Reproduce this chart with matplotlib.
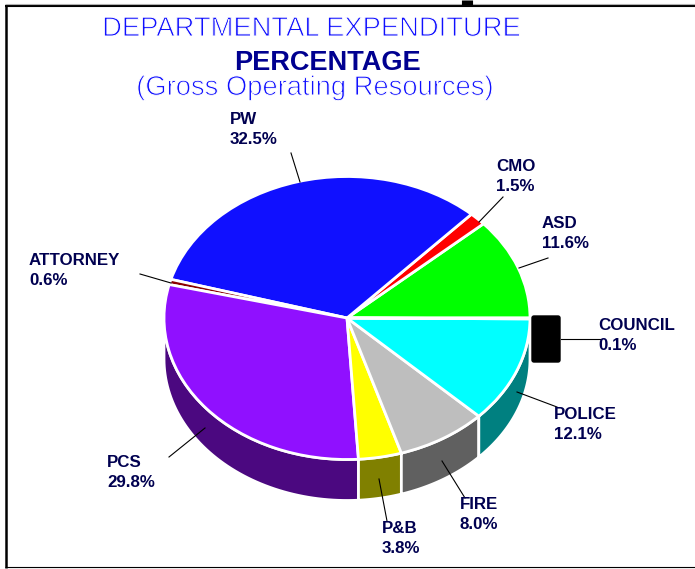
#!/usr/bin/env python3
"""Departmental expenditure pie, drawn with a fake 3D wall."""
import numpy as np
import matplotlib
matplotlib.use("Agg")
import matplotlib.pyplot as plt
import matplotlib.patheffects as pe
from matplotlib.patches import FancyBboxPatch, Polygon

plt.rcParams["font.family"] = ["Liberation Sans", "DejaVu Sans"]

W, H = 695, 569

# counter clockwise from 3 o'clock
departments = ["ASD", "CMO", "PW", "ATTORNEY", "PCS", "P&B", "FIRE", "POLICE", "COUNCIL"]
percents = [11.6, 1.5, 32.5, 0.6, 29.8, 3.8, 8.0, 12.1, 0.1]
top_colors = ["#00ff00", "#ff0000", "#1010ff", "#8b0000", "#9010ff",
              "#ffff00", "#bebebe", "#00ffff", "#000000"]
wall_colors = ["#008000", "#800000", "#080880", "#460000", "#4b0880",
               "#808000", "#606060", "#008080", "#000000"]

# label anchor (left, top of first line) and leader line, in image pixels
label_xy = [(542, 215), (496, 158), (230, 111), (29, 252), (107, 454),
            (382, 520), (460, 496), (554, 406), (598, 317)]
leaders = [((548, 258), (519, 268)), ((503, 197), (479, 222)), ((291, 153), (300, 182)),
           ((140, 274), (171, 283)), ((169, 457), (205, 428)), ((387, 521), (379, 479)),
           ((465, 498), (442, 461)), ((557, 407), (517, 392)), ((561, 339), (600, 339))]

# pie geometry in image pixels
CX, CY = 347, 318
RX, RY = 183, 141.5
DEPTH = 41 / RY

fig = plt.figure(figsize=(W / 100, H / 100), dpi=100, facecolor="white")

# pie axes fills the figure, limits chosen so radius 1 gives the ellipse
ax = fig.add_axes([0, 0, 1, 1])
wedges, _ = ax.pie(percents, colors=top_colors, startangle=0, counterclock=True,
                   wedgeprops={"edgecolor": "white", "linewidth": 2, "zorder": 3})
ax.set_aspect("auto")
ax.set_xlim(-CX / RX, (W - CX) / RX)
ax.set_ylim((CY - H) / RY, CY / RY)

# side wall only for the part of a slice on the lower half
for w, col in zip(wedges, wall_colors):
    t1, t2 = max(w.theta1, 180), min(w.theta2, 360)
    if t2 <= t1 or col == "#000000":
        continue
    t = np.radians(np.linspace(t1, t2, 60))
    x, y = np.cos(t), np.sin(t)
    pts = np.r_[np.c_[x, y], np.c_[x, y - DEPTH][::-1]]
    ax.add_patch(Polygon(pts, closed=True, facecolor=col, edgecolor="white",
                         linewidth=2, zorder=2))

# overlay in pixel coordinates for text and decoration
ov = fig.add_axes([0, 0, 1, 1], facecolor="none")
ov.set_xlim(0, W)
ov.set_ylim(H, 0)
ov.axis("off")

# white outline over the fill gives the thin strokes of the titles
thin = [pe.Stroke(linewidth=0.7, foreground="white")]
ov.text(311.5, 29, "DEPARTMENTAL EXPENDITURE", color="#1010ff", fontsize=19.7,
        ha="center", va="center", path_effects=thin)
ov.text(327, 63, "PERCENTAGE", color="#000090", fontsize=19.5, fontweight="bold",
        ha="center", va="center")
ov.text(315, 88, "(Gross Operating Resources)", color="#1010ff", fontsize=19.7,
        ha="center", va="center", path_effects=thin)

for name, pct, (lx, ly), (p0, p1) in zip(departments, percents, label_xy, leaders):
    ov.plot([p0[0], p1[0]], [p0[1], p1[1]], color="black", lw=0.8, zorder=4)
    ov.text(lx, ly + 1, f"{name}\n{pct:.1f}%", color="#000050", fontsize=12.2, fontweight="bold",
            ha="left", va="top", linespacing=1.42, zorder=5)

# the council slice shows as a black block
ov.add_patch(FancyBboxPatch((533, 317), 26, 44, boxstyle="round,pad=1,rounding_size=2",
                            facecolor="black", edgecolor="black", lw=1, zorder=3))

# frame
ov.plot([6, 6], [5, 568], color="black", lw=1.8, solid_capstyle="butt")
ov.plot([5, 695], [6, 6], color="black", lw=1.5, solid_capstyle="butt")
ov.plot([5, 695], [4, 4], color="#b0b0b0", lw=0.8, solid_capstyle="butt")
ov.plot([5, 695], [567.3, 567.3], color="black", lw=0.8, solid_capstyle="butt")
ov.plot([5, 695], [568.5, 568.5], color="#909090", lw=0.8, solid_capstyle="butt")
ov.plot([466.5, 466.5], [0, 5], color="black", lw=8, solid_capstyle="butt")

fig.savefig("out.png", dpi=100)
